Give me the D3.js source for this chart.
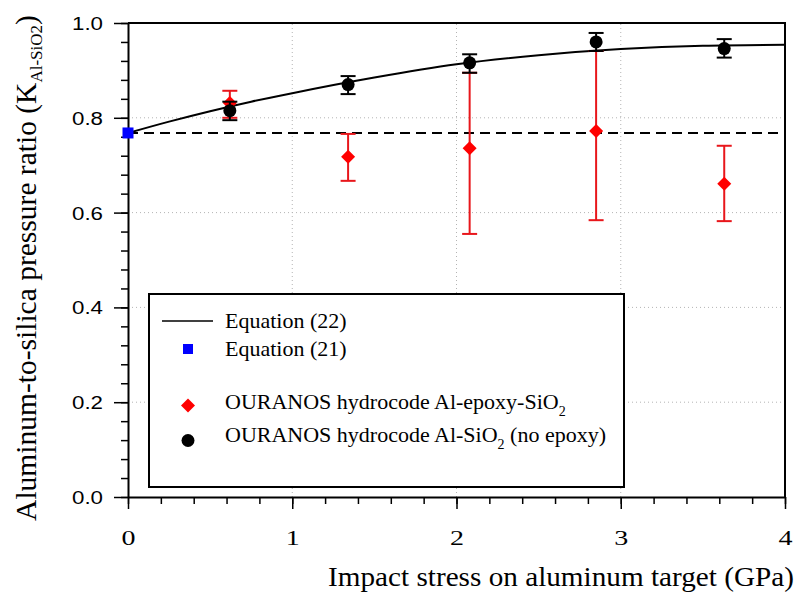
<!DOCTYPE html>
<html>
<head>
<meta charset="utf-8">
<script src="https://cdn.jsdelivr.net/npm/d3@7.9.0/dist/d3.min.js"></script>
<style>
    body { margin: 0; background: #fff; }
    svg { display: block; }
</style>
</head>
<body>
<svg id="chart" width="802" height="601"></svg>
<script>
// data
const xTicks = [0, 1, 2, 3, 4];
const yTicks = [0, 0.2, 0.4, 0.6, 0.8, 1.0];

// Equation (22)
const curveStress = [0, 0.25, 0.5, 0.75, 1.0, 1.5, 2.0, 2.5, 3.0, 3.5, 4.0];
const curveRatio = [0.768, 0.792, 0.814, 0.834, 0.852, 0.885, 0.913, 0.932, 0.945, 0.952, 0.954];

// Equation (21)
const eq21Stress = [0];
const eq21Ratio = [0.768];

// OURANOS Al-SiO2 (no epoxy)
const stressNoEpoxy = [0.62, 1.34, 2.08, 2.85, 3.63];
const ratioNoEpoxy = [0.815, 0.870, 0.916, 0.960, 0.946];
const lowNoEpoxy = [0.795, 0.850, 0.895, 0.941, 0.927];
const highNoEpoxy = [0.834, 0.888, 0.934, 0.979, 0.966];

// OURANOS Al-epoxy-SiO2
const stressEpoxy = [0.62, 1.34, 2.08, 2.85, 3.63];
const ratioEpoxy = [0.831, 0.718, 0.736, 0.772, 0.661];
const lowEpoxy = [0.800, 0.667, 0.555, 0.584, 0.582];
const highEpoxy = [0.857, 0.766, 0.895, 0.941, 0.741];

const serif = '"Liberation Serif", "Times New Roman", serif';
const sans = '"Liberation Sans", Arial, sans-serif';

const svg = d3.select('#chart');
const x = d3.scaleLinear().domain([0, 4]).range([128, 785]);
const y = d3.scaleLinear().domain([0, 1]).range([497, 23]);

// dotted grid
const grid = svg.append('g')
    .attr('stroke', '#b4b4b4')
    .attr('stroke-width', 1)
    .attr('stroke-dasharray', '1,3');
xTicks.slice(1, -1).forEach((t) => {
    grid.append('line')
        .attr('x1', x(t)).attr('x2', x(t))
        .attr('y1', y(0)).attr('y2', y(1));
});
yTicks.slice(1, -1).forEach((t) => {
    grid.append('line')
        .attr('x1', x(0)).attr('x2', x(4))
        .attr('y1', y(t)).attr('y2', y(t));
});

// legend box (sits over the grid)
svg.append('rect')
    .attr('x', 149).attr('y', 294)
    .attr('width', 475).attr('height', 193)
    .attr('fill', '#fff')
    .attr('stroke', '#000')
    .attr('stroke-width', 2);

// frame: top and right
svg.append('path')
    .attr('d', `M${x(0)},${y(1)}H${x(4)}V${y(0)}`)
    .attr('fill', 'none')
    .attr('stroke', '#000')
    .attr('stroke-width', 2);

// minor ticks
const minorY = d3.range(0, 1.0001, 0.04);
const minorX = d3.range(0, 4.0001, 0.2);
svg.append('g')
    .attr('transform', `translate(${x(0)},0)`)
    .call(d3.axisLeft(y).tickValues(minorY).tickSize(7).tickFormat(''))
    .call((g) => g.select('.domain').remove())
    .selectAll('line').attr('stroke-width', 1.5);
svg.append('g')
    .attr('transform', `translate(0,${y(0)})`)
    .call(d3.axisBottom(x).tickValues(minorX).tickSize(7).tickFormat(''))
    .call((g) => g.select('.domain').remove())
    .selectAll('line').attr('stroke-width', 1.5);

// major axes
const yAxis = svg.append('g')
    .attr('transform', `translate(${x(0)},0)`)
    .call(d3.axisLeft(y).tickValues(yTicks).tickSize(14).tickSizeOuter(0).tickFormat(d3.format('.1f')));
yAxis.select('.domain').attr('stroke-width', 2);
yAxis.selectAll('line').attr('stroke-width', 1.5);
yAxis.selectAll('text')
    .attr('x', -25)
    .attr('dy', '0.36em')
    .attr('font-family', sans)
    .attr('font-size', 18)
    .attr('fill', '#000')
    .attr('textLength', 31)
    .attr('lengthAdjust', 'spacingAndGlyphs');

const xAxis = svg.append('g')
    .attr('transform', `translate(0,${y(0)})`)
    .call(d3.axisBottom(x).tickValues(xTicks).tickSize(12).tickSizeOuter(0).tickFormat(d3.format('d')));
xAxis.select('.domain').attr('stroke-width', 2);
xAxis.selectAll('line').attr('stroke-width', 1.5);
xAxis.selectAll('text')
    .attr('y', 48)
    .attr('dy', 0)
    .attr('font-family', serif)
    .attr('font-size', 20)
    .attr('fill', '#000')
    .attr('textLength', 14)
    .attr('lengthAdjust', 'spacingAndGlyphs');

// axis titles
svg.append('text')
    .attr('x', 328).attr('y', 586)
    .attr('font-family', serif)
    .attr('font-size', 28)
    .attr('textLength', 466)
    .attr('lengthAdjust', 'spacingAndGlyphs')
    .text('Impact stress on aluminum target (GPa)');

const yTitle = svg.append('text')
    .attr('transform', 'translate(36,268) rotate(-90)')
    .attr('text-anchor', 'middle')
    .attr('font-family', serif)
    .attr('font-size', 29.5);
yTitle.append('tspan').text('Aluminum-to-silica pressure ratio (K');
yTitle.append('tspan').attr('font-size', 17).attr('dy', 6).text('Al-SiO2');
yTitle.append('tspan').attr('dy', -6).text(')');

// Equation (22) curve
const curvePts = curveStress.map((s, i) => [s, curveRatio[i]]);
svg.append('path')
    .datum(curvePts)
    .attr('d', d3.line().x((d) => x(d[0])).y((d) => y(d[1])).curve(d3.curveMonotoneX))
    .attr('fill', 'none')
    .attr('stroke', '#000')
    .attr('stroke-width', 2);

// dashed reference at Equation (21) value
svg.append('line')
    .attr('x1', x(0)).attr('x2', x(4))
    .attr('y1', y(eq21Ratio[0])).attr('y2', y(eq21Ratio[0]))
    .attr('stroke', '#000')
    .attr('stroke-width', 2)
    .attr('stroke-dasharray', '10,6');

function errorBars(xs, lows, highs, color) {
    const g = svg.append('g').attr('stroke', color).attr('stroke-width', 2);
    xs.forEach((s, i) => {
        const cx = x(s);
        g.append('line').attr('x1', cx).attr('x2', cx).attr('y1', y(lows[i])).attr('y2', y(highs[i]));
        g.append('line').attr('x1', cx - 7.5).attr('x2', cx + 7.5).attr('y1', y(lows[i])).attr('y2', y(lows[i]));
        g.append('line').attr('x1', cx - 7.5).attr('x2', cx + 7.5).attr('y1', y(highs[i])).attr('y2', y(highs[i]));
    });
}

const diamond = (cx, cy, r) => `M${cx},${cy - r}L${cx + r},${cy}L${cx},${cy + r}L${cx - r},${cy}Z`;

// red: Al-epoxy-SiO2
errorBars(stressEpoxy, lowEpoxy, highEpoxy, '#e8161b');
svg.append('g').selectAll('path')
    .data(stressEpoxy)
    .join('path')
    .attr('d', (s, i) => diamond(x(s), y(ratioEpoxy[i]), 7))
    .attr('fill', '#ff0000');

// black: Al-SiO2 no epoxy
errorBars(stressNoEpoxy, lowNoEpoxy, highNoEpoxy, '#000');
svg.append('g').selectAll('circle')
    .data(stressNoEpoxy)
    .join('circle')
    .attr('cx', (s) => x(s))
    .attr('cy', (s, i) => y(ratioNoEpoxy[i]))
    .attr('r', 6.5)
    .attr('fill', '#000');

// blue square: Equation (21)
svg.selectAll('rect.eq21')
    .data(eq21Stress)
    .join('rect')
    .attr('class', 'eq21')
    .attr('x', (s) => x(s) - 5.5)
    .attr('y', (s, i) => y(eq21Ratio[i]) - 5.5)
    .attr('width', 11).attr('height', 11)
    .attr('fill', '#0000ff');

// legend contents
const legend = svg.append('g')
    .attr('font-family', serif)
    .attr('font-size', 22)
    .attr('fill', '#000');

legend.append('line')
    .attr('x1', 162).attr('x2', 213).attr('y1', 321).attr('y2', 321)
    .attr('stroke', '#000').attr('stroke-width', 1.5);
legend.append('text').attr('x', 225).attr('y', 328).text('Equation (22)');

legend.append('rect')
    .attr('x', 183).attr('y', 344).attr('width', 10).attr('height', 10)
    .attr('fill', '#0000ff');
legend.append('text').attr('x', 225).attr('y', 356).text('Equation (21)');

legend.append('path').attr('d', diamond(188, 405.5, 7)).attr('fill', '#ff0000');
const t3 = legend.append('text').attr('x', 225).attr('y', 409);
t3.append('tspan').text('OURANOS hydrocode Al-epoxy-SiO');
t3.append('tspan').attr('font-size', 14).attr('dy', 7).text('2');

legend.append('circle').attr('cx', 188).attr('cy', 440.5).attr('r', 6.5).attr('fill', '#000');
const t4 = legend.append('text').attr('x', 225).attr('y', 442);
t4.append('tspan').text('OURANOS hydrocode Al-SiO');
t4.append('tspan').attr('font-size', 14).attr('dy', 7).text('2');
t4.append('tspan').attr('dy', -7).text(' (no epoxy)');
</script>
</body>
</html>
